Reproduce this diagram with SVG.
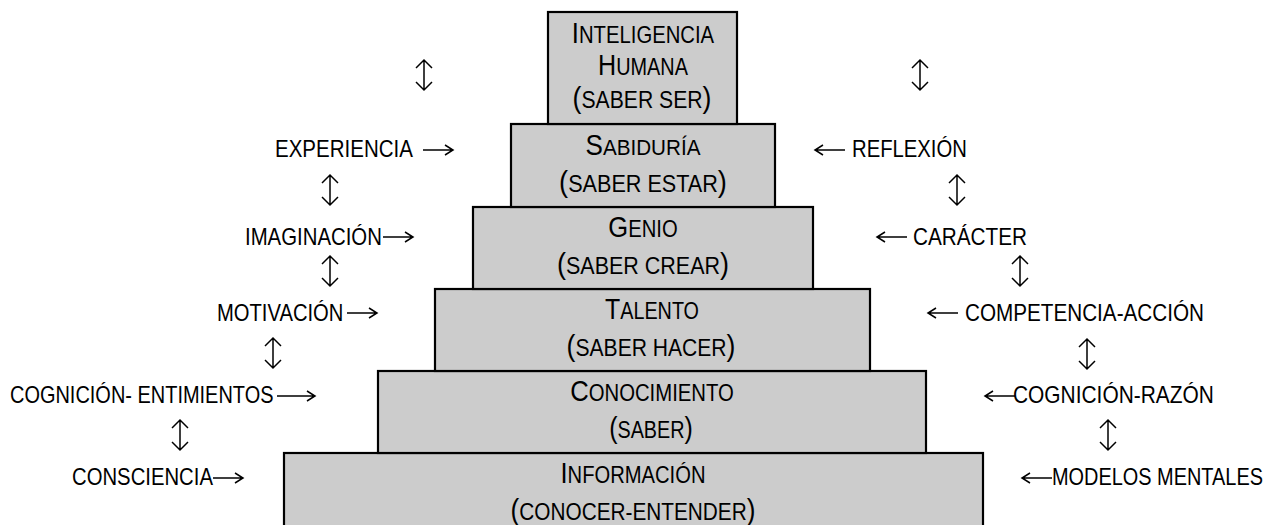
<svg xmlns="http://www.w3.org/2000/svg" xmlns:xlink="http://www.w3.org/1999/xlink" width="1275" height="525" viewBox="0 0 1275 525">
<style>
.box{fill:#cccccc;stroke:#000;stroke-width:2.2}
text{font-family:"Liberation Sans",Arial,sans-serif;fill:#000}
.bt{font-size:23px;text-anchor:middle}
.big{font-size:29px}
.lb{font-size:24px}
.ar{fill:none;stroke:#000;stroke-width:1.5}
</style>
<defs>
<path id="ud" d="M0,-15 V15 M-8,-7 L0,-15 L8,-7 M-8,7 L0,15 L8,7" class="ar"/>
<path id="ra" d="M-30,0 H0 M-8,-5 L0,0 L-8,5" class="ar"/>
<path id="la" d="M30,0 H0 M8,-5 L0,0 L8,5" class="ar"/>
</defs>
<rect width="1275" height="525" fill="#fff"/>
<g id="informacion">
<rect class="box" x="284" y="453" width="699" height="90"/>
<text class="bt" transform="translate(633,483) scale(0.878,1)"><tspan class="big">I</tspan>NFORMACIÓN</text>
<text class="bt" transform="translate(633,520) scale(0.904,1)"><tspan class="big">(</tspan>CONOCER-ENTENDER<tspan class="big">)</tspan></text>
</g>
<g id="conocimiento">
<rect class="box" x="378" y="371" width="548" height="82"/>
<text class="bt" transform="translate(652,401) scale(0.883,1)"><tspan class="big">C</tspan>ONOCIMIENTO</text>
<text class="bt" transform="translate(651,438) scale(0.86,1)"><tspan class="big">(</tspan>SABER<tspan class="big">)</tspan></text>
</g>
<g id="talento">
<rect class="box" x="435" y="289" width="435" height="82"/>
<text class="bt" transform="translate(652,319) scale(0.86,1)"><tspan class="big">T</tspan>ALENTO</text>
<text class="bt" transform="translate(651,356) scale(0.917,1)"><tspan class="big">(</tspan>SABER HACER<tspan class="big">)</tspan></text>
</g>
<g id="genio">
<rect class="box" x="473" y="207" width="340" height="82"/>
<text class="bt" transform="translate(643,237) scale(0.88,1)"><tspan class="big">G</tspan>ENIO</text>
<text class="bt" transform="translate(643,274) scale(0.934,1)"><tspan class="big">(</tspan>SABER CREAR<tspan class="big">)</tspan></text>
</g>
<g id="sabiduria">
<rect class="box" x="511" y="124" width="264" height="83"/>
<text class="bt" transform="translate(643,155) scale(0.898,1)"><tspan class="big">S</tspan>ABIDURÍA</text>
<text class="bt" transform="translate(643,192) scale(0.94,1)"><tspan class="big">(</tspan>SABER ESTAR<tspan class="big">)</tspan></text>
</g>
<g id="inteligencia">
<rect class="box" x="548" y="12" width="189" height="112"/>
<text class="bt" transform="translate(643,43) scale(0.882,1)"><tspan class="big">I</tspan>NTELIGENCIA</text>
<text class="bt" transform="translate(643,75) scale(0.865,1)"><tspan class="big">H</tspan>UMANA</text>
<text class="bt" transform="translate(642,108) scale(0.92,1)"><tspan class="big">(</tspan>SABER SER<tspan class="big">)</tspan></text>
</g>
<g id="left-labels">
<text id="experiencia" class="lb" transform="translate(275,157) scale(0.855,1)">EXPERIENCIA</text>
<text id="imaginacion" class="lb" transform="translate(245,245) scale(0.849,1)">IMAGINACIÓN</text>
<text id="motivacion" class="lb" transform="translate(217,321) scale(0.842,1)">MOTIVACIÓN</text>
<text id="cognicion-sent" class="lb" transform="translate(10,403) scale(0.832,1)">COGNICIÓN- ENTIMIENTOS</text>
<text id="consciencia" class="lb" transform="translate(72,485) scale(0.846,1)">CONSCIENCIA</text>
</g>
<g id="right-labels">
<text id="reflexion" class="lb" transform="translate(852,157) scale(0.845,1)">REFLEXIÓN</text>
<text id="caracter" class="lb" transform="translate(913,245) scale(0.864,1)">CARÁCTER</text>
<text id="competencia" class="lb" transform="translate(965,321) scale(0.862,1)">COMPETENCIA-ACCIÓN</text>
<text id="cognicion-razon" class="lb" transform="translate(1013,403) scale(0.871,1)">COGNICIÓN-RAZÓN</text>
<text id="modelos" class="lb" transform="translate(1052,485) scale(0.83,1)">MODELOS MENTALES</text>
</g>
<g id="connectors">
<use xlink:href="#ra" x="453" y="150"/>
<use xlink:href="#ra" x="413" y="237"/>
<use xlink:href="#ra" x="377" y="313"/>
<path class="ar" d="M277,396 H315 M307,391 L315,396 L307,401"/>
<use xlink:href="#ra" x="243" y="478"/>
<use xlink:href="#la" x="815" y="150"/>
<use xlink:href="#la" x="877" y="237"/>
<use xlink:href="#la" x="928" y="313"/>
<use xlink:href="#la" x="985" y="396"/>
<use xlink:href="#la" x="1022" y="478"/>
<use xlink:href="#ud" x="424" y="75"/>
<use xlink:href="#ud" x="330" y="190"/>
<use xlink:href="#ud" x="330" y="271"/>
<use xlink:href="#ud" x="273" y="353"/>
<use xlink:href="#ud" x="180" y="435"/>
<use xlink:href="#ud" x="920" y="75"/>
<use xlink:href="#ud" x="957" y="190"/>
<use xlink:href="#ud" x="1020" y="271"/>
<use xlink:href="#ud" x="1087" y="354"/>
<use xlink:href="#ud" x="1108" y="435"/>
</g>
</svg>
